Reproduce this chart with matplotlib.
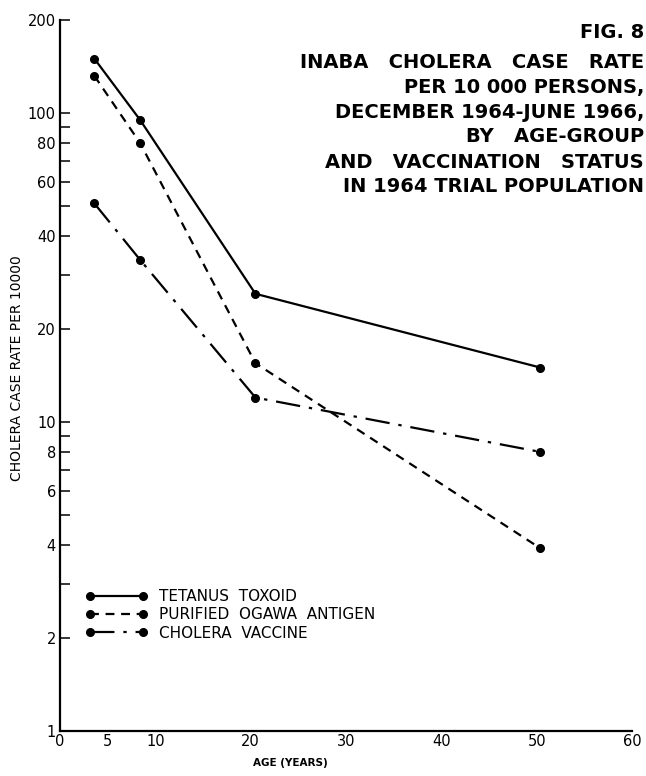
import matplotlib
matplotlib.use("Agg")
import matplotlib.pyplot as plt
from matplotlib.ticker import FixedLocator, NullFormatter

# ages (years) at which the rates were plotted
ages = [3.6, 8.4, 20.5, 50.4]

# cholera case rate per 10 000
tetanus = [150, 95, 26, 15]
ogawa = [132, 80, 15.5, 3.9]
vaccine = [51, 33.5, 12, 8]

series_names = ["TETANUS  TOXOID", "PURIFIED  OGAWA  ANTIGEN", "CHOLERA  VACCINE"]

y_major = [1, 2, 4, 6, 8, 10, 20, 40, 60, 80, 100, 200]
y_minor = [3, 5, 7, 9, 30, 50, 70, 90]
x_ticks = [0, 5, 10, 20, 30, 40, 50, 60]

title_lines = [
    "FIG. 8",
    "INABA   CHOLERA   CASE   RATE",
    "PER 10 000 PERSONS,",
    "DECEMBER 1964-JUNE 1966,",
    "BY   AGE-GROUP",
    "AND   VACCINATION   STATUS",
    "IN 1964 TRIAL POPULATION",
]

W, H = 646, 776
fig = plt.figure(figsize=(W / 100, H / 100), dpi=100)
ax = fig.add_axes([60 / W, 45 / H, 572 / W, 711 / H])

lw = 1.6
ms = 5.5
ax.plot(ages, tetanus, color="black", lw=lw, ls="-", marker="o", ms=ms,
        label=series_names[0])
ax.plot(ages, ogawa, color="black", lw=lw, ls=(0, (4, 3)), marker="o", ms=ms,
        label=series_names[1])
ax.plot(ages, vaccine, color="black", lw=lw, ls=(0, (11, 4, 1.5, 4)), marker="o",
        ms=ms, label=series_names[2])

ax.set_yscale("log")
ax.set_ylim(1, 200)
ax.set_xlim(0, 60)

ax.yaxis.set_major_locator(FixedLocator(y_major))
ax.yaxis.set_minor_locator(FixedLocator(y_minor))
ax.yaxis.set_minor_formatter(NullFormatter())
ax.set_yticklabels([str(v) for v in y_major])
ax.set_xticks(x_ticks)
ax.set_xticklabels([str(v) for v in x_ticks])

ax.tick_params(axis="y", which="both", direction="in", length=7, width=1.1,
               pad=3, labelsize=10.5)
ax.tick_params(axis="x", which="both", length=0, pad=2, labelsize=10.5)

for s in ["top", "right"]:
    ax.spines[s].set_visible(False)
for s in ["left", "bottom"]:
    ax.spines[s].set_linewidth(1.6)

fig.text(17 / W, 1 - 368 / H, "CHOLERA CASE RATE PER 10000", rotation=90,
         ha="center", va="center", fontsize=10)
fig.text(290 / W, 1 - 763 / H, "AGE (YEARS)", ha="center", va="center",
         fontsize=7.5, fontweight="bold")

ys = [32, 62, 87, 112, 137, 162, 187]
for line, y in zip(title_lines, ys):
    fig.text(644 / W, 1 - y / H, line, ha="right", va="center",
             fontsize=14, fontweight="bold")

fig.legend(loc="upper left", bbox_to_anchor=(85 / W, 1 - 589 / H),
           frameon=False, numpoints=2, handlelength=4.1, handletextpad=0.75,
           labelspacing=0.22, borderpad=0, borderaxespad=0, fontsize=11)

fig.savefig("out.png", dpi=100)
